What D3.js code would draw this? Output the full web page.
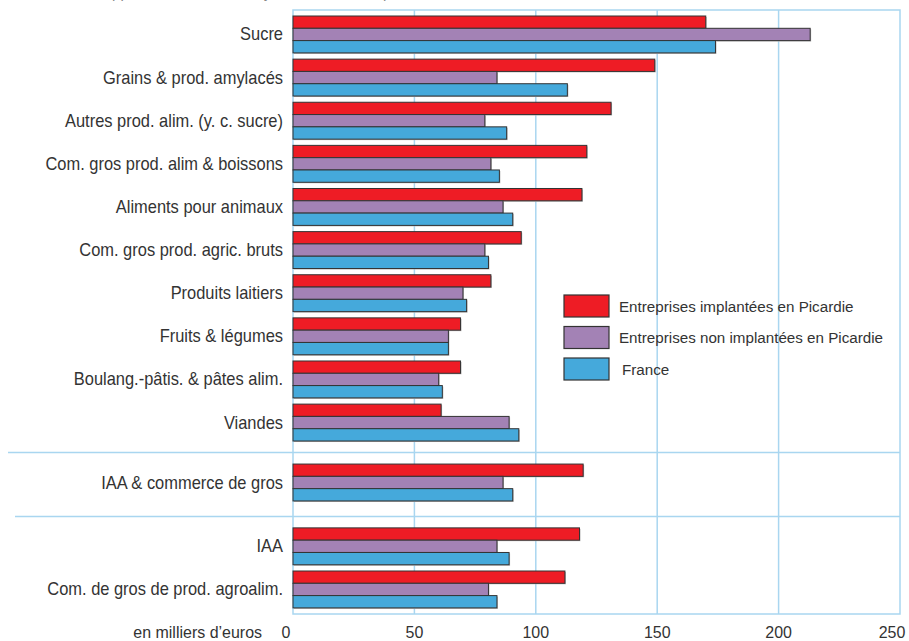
<!DOCTYPE html>
<html>
<head>
<meta charset="utf-8">
<title>Valeur ajoutée par salarié</title>
<script src="https://cdn.jsdelivr.net/npm/d3@7"></script>
<style>
body { margin: 0; background: #fff; }
text { font-family: "Liberation Sans Narrow", "Arial Narrow", "Liberation Sans", Arial, sans-serif; fill: #333; }
</style>
</head>
<body>
<div id="chart"></div>
<script>
// Categories, top to bottom, and the group each one belongs to.
var categories = ["Sucre", "Grains & prod. amylacés", "Autres prod. alim. (y. c. sucre)",
    "Com. gros prod. alim & boissons", "Aliments pour animaux", "Com. gros prod. agric. bruts",
    "Produits laitiers", "Fruits & légumes", "Boulang.-pâtis. & pâtes alim.", "Viandes",
    "IAA & commerce de gros", "IAA", "Com. de gros de prod. agroalim."];
var groups = [0, 0, 0, 0, 0, 0, 0, 0, 0, 0, 1, 2, 2];

var seriesNames = ["Entreprises implantées en Picardie", "Entreprises non implantées en Picardie", "France"];
var picardie    = [170, 149, 131, 121, 119, 94, 81.5, 69, 69, 61, 119.5, 118, 112];
var nonPicardie = [213, 84, 79, 81.5, 86.5, 79, 70, 64, 60, 89, 86.5, 84, 80.5];
var france      = [174, 113, 88, 85, 90.5, 80.5, 71.5, 64, 61.5, 93, 90.5, 89, 84];
var colors = ["#ee1c25", "#a382b5", "#45a9db"];

var xTicks = [0, 50, 100, 150, 200, 250];

var width = 909, height = 641;
var frame = {left: 293, right: 900, top: 10, bottom: 614};
var barH = 12.3;
var gridColor = "#a9d6f0";

var svg = d3.select("#chart").append("svg")
    .attr("width", width)
    .attr("height", height);

var x = d3.scaleLinear()
    .domain([0, 250])
    .range([frame.left, frame.right]);

// slot index with a little extra room between groups
var groupGap = [0, 0.39, 0.87];
var slot = categories.map((c, i) => i + groupGap[groups[i]]);
var y = d3.scaleLinear()
    .domain([0, 12.87])
    .range([16, 571]);

// narrow-ish text: the reference font is condensed
function label(sel, px, py, size, sx) {
    return sel.append("text")
        .attr("transform", "translate(" + px + "," + py + ") scale(" + sx + ",1)")
        .style("font-size", size + "px");
}

// clipped title at the top
label(svg, 37, -2.5, 15, 1)
    .style("fill", "#888")
    .text("Résultats apparents de la valeur ajoutée hors taxes par salarié en 2009");

// grid
svg.append("g").selectAll("line")
    .data(xTicks.slice(1, -1))
  .enter().append("line")
    .attr("x1", d => x(d)).attr("x2", d => x(d))
    .attr("y1", frame.top).attr("y2", frame.bottom)
    .attr("stroke", gridColor)
    .attr("stroke-width", 1.5);

// separators between the groups
var sepY = [1, 2].map(function(g) {
    var last = groups.lastIndexOf(g - 1), first = groups.indexOf(g);
    return (y(slot[last]) + 3 * barH + y(slot[first])) / 2 + (g == 2 ? 2 : 0);
});
svg.append("g").selectAll("line")
    .data(sepY)
  .enter().append("line")
    .attr("x1", (d, i) => i == 0 ? 8 : 15).attr("x2", frame.right)
    .attr("y1", d => d).attr("y2", d => d)
    .attr("stroke", gridColor)
    .attr("stroke-width", 1.5);

svg.append("rect")
    .attr("x", frame.left).attr("y", frame.top)
    .attr("width", frame.right - frame.left)
    .attr("height", frame.bottom - frame.top)
    .attr("fill", "none")
    .attr("stroke", gridColor)
    .attr("stroke-width", 1.5);

// bars
var series = [picardie, nonPicardie, france];
var rows = svg.selectAll(".row")
    .data(categories)
  .enter().append("g")
    .attr("class", "row")
    .attr("transform", (d, i) => "translate(0," + y(slot[i]) + ")");

series.forEach(function(vals, s) {
    // soft shadow
    rows.append("rect")
        .attr("x", x(0) + 1)
        .attr("y", s * barH + 1)
        .attr("width", (d, i) => x(vals[i]) - x(0))
        .attr("height", barH)
        .attr("fill", "#bbb");
    rows.append("rect")
        .attr("x", x(0))
        .attr("y", s * barH)
        .attr("width", (d, i) => x(vals[i]) - x(0))
        .attr("height", barH)
        .attr("fill", colors[s])
        .attr("stroke", "#333")
        .attr("stroke-width", 1);
});

rows.each(function(d) {
    label(d3.select(this), 283, barH * 1.5 + 6, 17.5, 0.94)
        .attr("text-anchor", "end")
        .text(d);
});

// x axis labels
xTicks.forEach(function(t) {
    var px = x(t) + (t == 0 ? -7 : t == 250 ? -8 : 0);
    label(svg, px, 638, 17, 0.94)
        .attr("text-anchor", "middle")
        .text(t);
});

label(svg, 262, 638, 17, 0.94)
    .attr("text-anchor", "end")
    .text("en milliers d’euros");

// legend
var legend = svg.selectAll(".legend")
    .data(seriesNames)
  .enter().append("g")
    .attr("class", "legend")
    .attr("transform", (d, i) => "translate(564," + (295 + i * 31.5) + ")");
legend.append("rect")
    .attr("width", 45)
    .attr("height", 22)
    .attr("fill", (d, i) => colors[i])
    .attr("stroke", "#333")
    .attr("stroke-width", 1.2);
legend.each(function(d, i) {
    label(d3.select(this), i == 2 ? 58 : 55, 16.5, 15.5, 0.98).text(d);
});
</script>
</body>
</html>
